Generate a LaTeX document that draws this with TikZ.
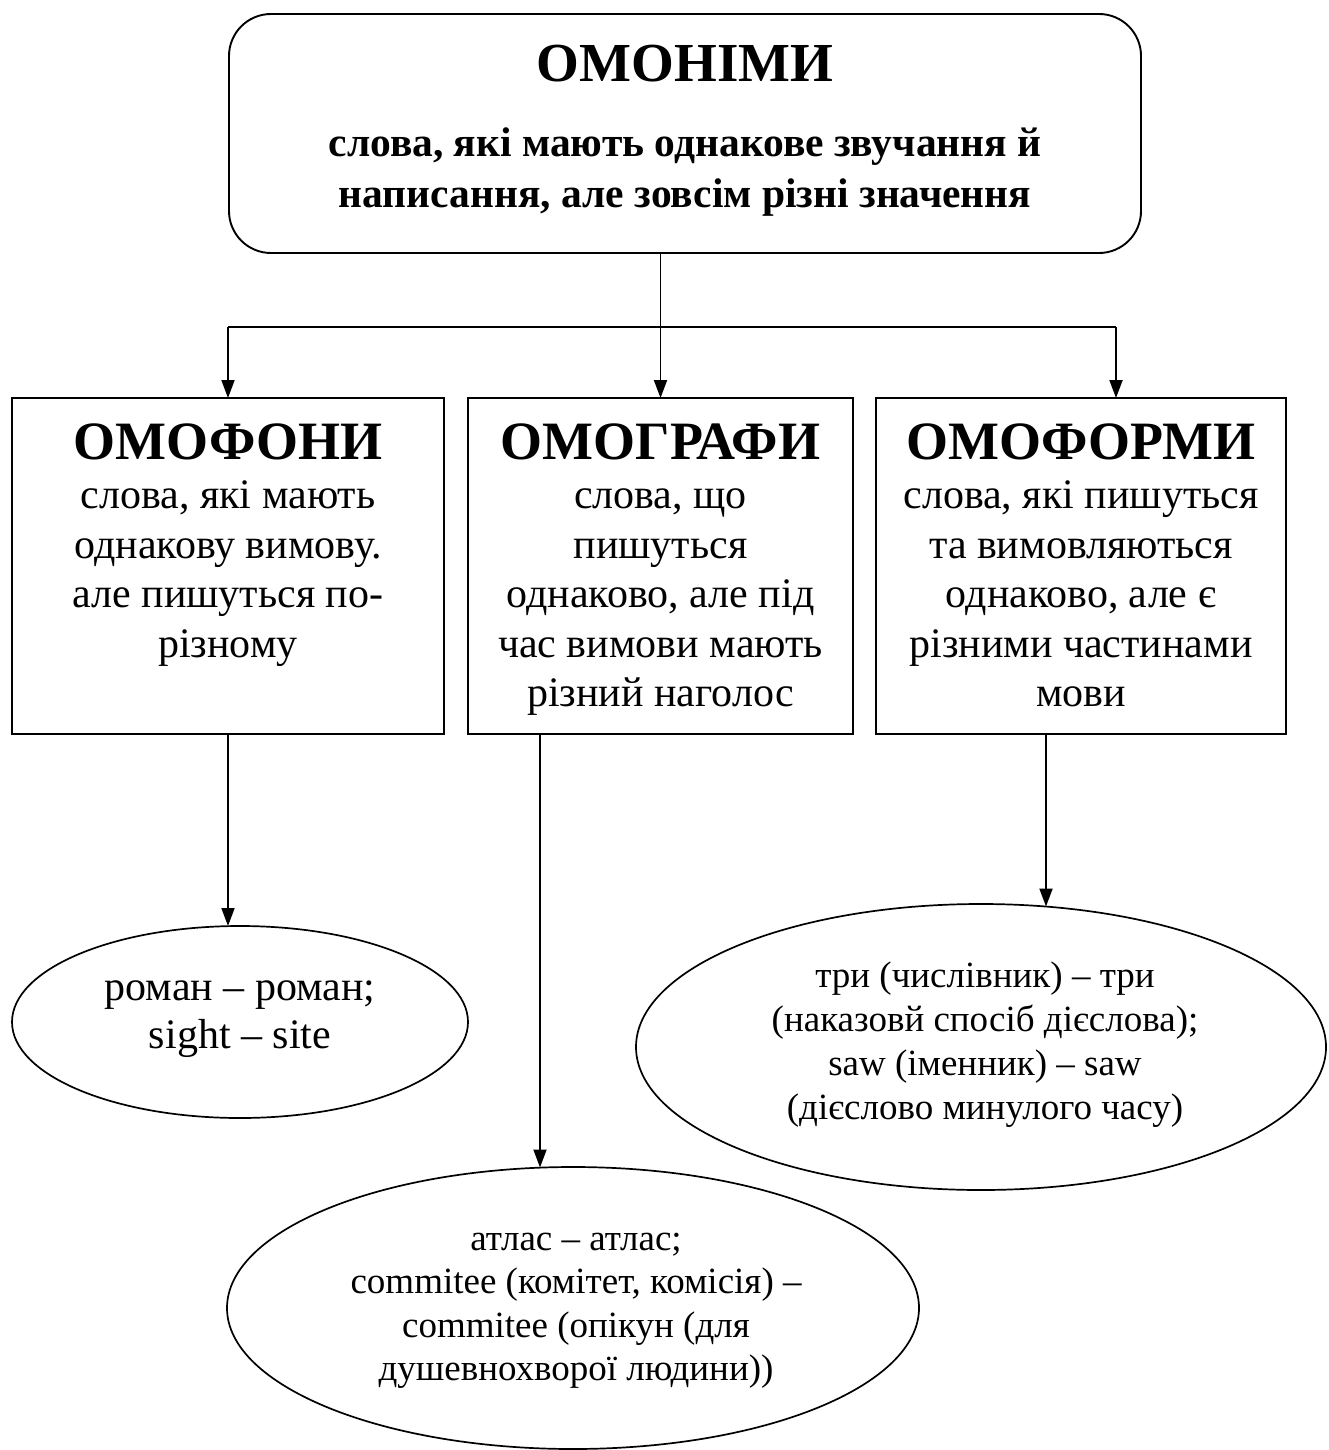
\documentclass[tikz,border=0pt]{standalone}
\usepackage{fontspec}
\setmainfont{Liberation Serif}
\usetikzlibrary{arrows.meta,shapes.geometric}
\newcommand\mybody{\fontsize{42}{49.5}\selectfont}
\newcommand\mytitle[1]{{\fontsize{54}{54}\selectfont\bfseries #1}}
\begin{document}
\begin{tikzpicture}[x=1pt,y=-1pt,
  every node/.style={inner sep=0pt, outer sep=0pt},
  shapeline/.style={draw=black, line width=1.9pt},
  boxnode/.style={shapeline, rectangle},
  ovalnode/.style={draw=black, line width=1.7pt, ellipse},
  link/.style={line width=1.9pt},
  arrowlink/.style={link, -{Triangle[length=18pt,width=13pt]}},
  txt/.style={anchor=base, inner sep=0pt, align=center},
  ]
\useasboundingbox (0,0) rectangle (1328,1450);

% shapes
\node[boxnode, rounded corners=42pt, minimum width=912pt, minimum height=239pt] (top) at (685,133.5) {};
\node[boxnode, minimum width=432pt, minimum height=336pt] (b1) at (228,566) {};
\node[boxnode, minimum width=385pt, minimum height=336pt] (b2) at (660.5,566) {};
\node[boxnode, minimum width=410pt, minimum height=336pt] (b3) at (1081,566) {};
\node[ovalnode, minimum width=456pt, minimum height=192pt] (e1) at (240,1022) {};
\node[ovalnode, minimum width=692pt, minimum height=282pt] (e2) at (573,1308) {};
\node[ovalnode, minimum width=690pt, minimum height=286pt] (e3) at (981,1047) {};

% texts
\node[txt] (ttop) at (685,82) {\fontsize{41.5}{51}\selectfont\bfseries
  \begin{tabular}[t]{@{}c@{}}{\fontsize{55}{55}\selectfont ОМОНІМИ}\\[24pt]
  слова, які мають однакове звучання й\\
  написання, але зовсім різні значення\end{tabular}};

\node[txt] (tb1) at (228,459) {\mybody
  \begin{tabular}[t]{@{}c@{}}\mytitle{ОМОФОНИ}\\
  слова, які мають\\ однакову вимову.\\ але пишуться по-\\ різному\end{tabular}};

\node[txt] (tb2) at (660.5,459) {\mybody
  \begin{tabular}[t]{@{}c@{}}\mytitle{ОМОГРАФИ}\\
  слова, що\\ пишуться\\ однаково, але під\\ час вимови мають\\ різний наголос\end{tabular}};

\node[txt] (tb3) at (1081,459) {\mybody
  \begin{tabular}[t]{@{}c@{}}\mytitle{ОМОФОРМИ}\\
  слова, які пишуться\\ та вимовляються\\ однаково, але є\\ різними частинами\\ мови\end{tabular}};

\node[txt] (te1) at (240,1000) {\fontsize{42}{48}\selectfont
  \begin{tabular}[t]{@{}c@{}}роман – роман;\\ sight – site\end{tabular}};

\node[txt] (te2) at (576,1250) {\fontsize{37}{43.5}\selectfont
  \begin{tabular}[t]{@{}c@{}}атлас – атлас;\\ commitee (комітет, комісія) –\\ commitee (опікун (для\\ душевнохворої людини))\end{tabular}};

\node[txt] (te3) at (985,987) {\fontsize{37}{44}\selectfont
  \begin{tabular}[t]{@{}c@{}}три (числівник) – три\\ (наказовй спосіб дієслова);\\ saw (іменник) – saw\\ (дієслово минулого часу)\end{tabular}};

% connector points
\coordinate (bar) at (0,327);
\coordinate (a3) at (1116,398);
\coordinate (s2) at (540,734);
\coordinate (s3) at (1046,734);

% connectors
\draw[link] (b2.north |- top.south) -- (b2.north |- bar);
\draw[link] (b1.north |- bar) -- (a3 |- bar);
\draw[arrowlink] (b1.north |- bar) -- (b1.north);
\draw[arrowlink] (b2.north |- bar) -- (b2.north);
\draw[arrowlink] (a3 |- bar) -- (a3);
\draw[arrowlink] (b1.south) -- (b1.south |- e1.north);
\draw[arrowlink] (s2) -- ([yshift=-0.5pt]s2 |- e2.north);
\draw[arrowlink] (s3) -- ([yshift=-2.5pt]s3 |- e3.north);
\end{tikzpicture}
\end{document}
